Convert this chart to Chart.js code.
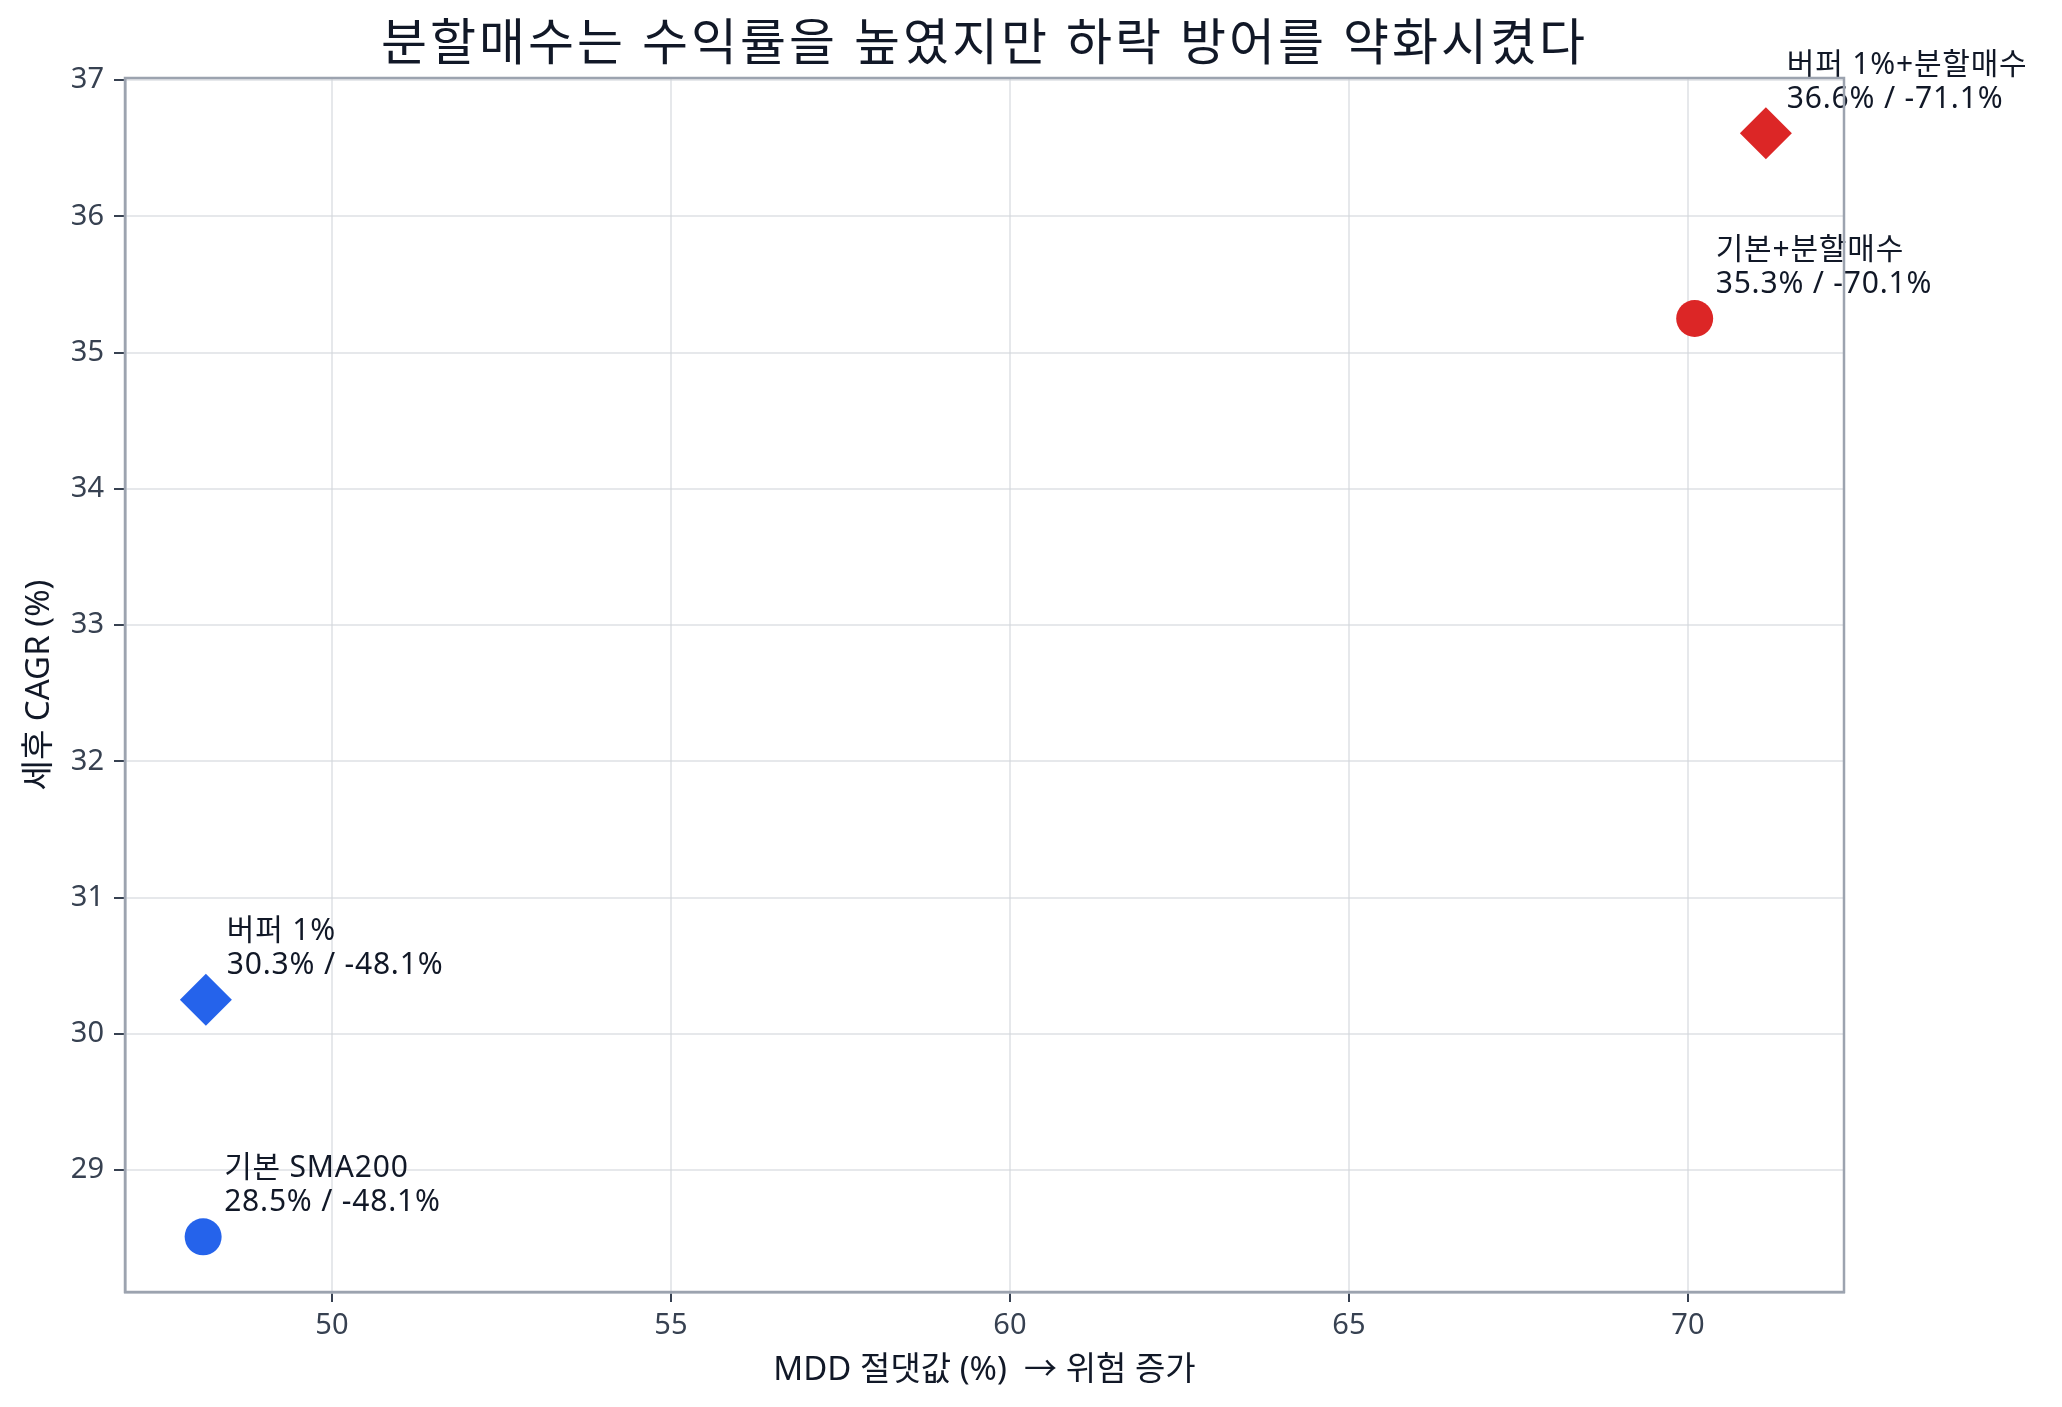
<!DOCTYPE html>
<html lang="ko">
<head>
<meta charset="utf-8">
<title>분할매수 CAGR vs MDD</title>
<script src="https://cdn.jsdelivr.net/npm/chart.js@4.4.1/dist/chart.umd.min.js"></script>
<style>
  html, body { margin: 0; padding: 0; background: #fff; }
  #wrap { width: 2062px; height: 1407px; position: relative; }
</style>
</head>
<body>
<div id="wrap"><canvas id="scatter"></canvas></div>
<script>
// ===== Data =====
const strategies = ["기본 SMA200", "버퍼 1%", "기본+분할매수", "버퍼 1%+분할매수"];
const mddAbs = [48.1, 48.14, 70.1, 71.15];      // x: MDD absolute (%)
const cagrAfterTax = [28.51, 30.25, 35.25, 36.61]; // y: after-tax CAGR (%)
const cagrText = ["28.5%", "30.3%", "35.3%", "36.6%"];
const mddText = ["-48.1%", "-48.1%", "-70.1%", "-71.1%"];
const markerShapes = ["circle", "rectRot", "circle", "rectRot"];
const markerColors = ["#2563eb", "#2563eb", "#dc2626", "#dc2626"];

const xTicks = [50, 55, 60, 65, 70];
const yTicks = [29, 30, 31, 32, 33, 34, 35, 36, 37];

const chartTitle = "분할매수는 수익률을 높였지만 하락 방어를 약화시켰다";
const xTitle = "MDD 절댓값 (%)  → 위험 증가";
const yTitle = "세후 CAGR (%)";

const FONT = "'Noto Sans', 'Noto Sans CJK KR', sans-serif";

// matplotlib style 5% margins
function padRange(values) {
  const lo = Math.min(...values), hi = Math.max(...values);
  const m = (hi - lo) * 0.05;
  return [lo - m, hi + m];
}
const [xMin, xMax] = padRange(mddAbs);
const [yMin, yMax] = padRange(cagrAfterTax);

// ===== Plugins =====
const frameAndTitle = {
  id: "frameAndTitle",
  afterDraw(chart) {
    const { ctx, chartArea } = chart;
    ctx.save();
    ctx.strokeStyle = "#9ca3af";
    ctx.lineWidth = 2.5;
    ctx.strokeRect(chartArea.left, chartArea.top,
      chartArea.right - chartArea.left, chartArea.bottom - chartArea.top);
    ctx.fillStyle = "#111827";
    ctx.font = "50px " + FONT;
    ctx.letterSpacing = "3px";
    ctx.textAlign = "center";
    ctx.textBaseline = "middle";
    ctx.fillText(chartTitle, (chartArea.left + chartArea.right) / 2, 46);
    ctx.restore();
  },
};

const pointLabels = {
  id: "pointLabels",
  afterDatasetsDraw(chart) {
    const { ctx } = chart;
    const meta = chart.getDatasetMeta(0);
    ctx.save();
    ctx.fillStyle = "#111827";
    ctx.font = "30px " + FONT;
    ctx.letterSpacing = "0.8px";
    ctx.textAlign = "left";
    ctx.textBaseline = "bottom";
    meta.data.forEach((pt, i) => {
      const x = pt.x + 21;
      const y = pt.y - 19;
      ctx.fillText(cagrText[i] + " / " + mddText[i], x, y);
      ctx.fillText(strategies[i], x, y - 34);
    });
    ctx.restore();
  },
};

// ===== Chart =====
const ctx = document.getElementById("scatter");
new Chart(ctx, {
  type: "scatter",
  data: {
    datasets: [
      {
        label: "strategies",
        data: mddAbs.map((x, i) => ({ x, y: cagrAfterTax[i] })),
        pointStyle: markerShapes,
        pointRadius: markerShapes.map((s) => (s === "circle" ? 18.5 : 26)),
        pointHoverRadius: markerShapes.map((s) => (s === "circle" ? 18.5 : 26)),
        backgroundColor: markerColors,
        borderColor: markerColors,
        borderWidth: 0,
      },
    ],
  },
  options: {
    responsive: true,
    maintainAspectRatio: false,
    animation: false,
    layout: { padding: { top: 78, right: 218, left: 0, bottom: 0 } },
    plugins: {
      legend: { display: false },
      title: { display: false },
      tooltip: { enabled: false },
    },
    scales: {
      x: {
        type: "linear",
        z: 1,
        min: xMin,
        max: xMax,
        afterBuildTicks: (scale) => { scale.ticks = xTicks.map((v) => ({ value: v })); },
        afterFit: (scale) => { scale.height = 115; },
        ticks: { color: "#374151", font: { family: FONT, size: 29 }, padding: 6 },
        grid: { color: "rgba(209,213,219,0.55)", lineWidth: 2, tickColor: "#374151", tickLength: 10, tickWidth: 2 },
        border: { display: true, color: "#9ca3af", width: 2.5 },
        title: {
          display: true,
          text: xTitle,
          color: "#111827",
          font: { family: FONT, size: 33 },
          padding: { top: 0, bottom: 17 },
        },
      },
      y: {
        type: "linear",
        z: 1,
        min: yMin,
        max: yMax,
        afterBuildTicks: (scale) => { scale.ticks = yTicks.map((v) => ({ value: v })); },
        afterFit: (scale) => { scale.width = 125; },
        ticks: { color: "#374151", font: { family: FONT, size: 29 }, padding: 10 },
        grid: { color: "rgba(209,213,219,0.55)", lineWidth: 2, tickColor: "#374151", tickLength: 11, tickWidth: 2 },
        border: { display: true, color: "#9ca3af", width: 2.5 },
        title: {
          display: true,
          text: yTitle,
          color: "#111827",
          font: { family: FONT, size: 33 },
          padding: { top: 20, bottom: 0 },
        },
      },
    },
  },
  plugins: [frameAndTitle, pointLabels],
});
</script>
</body>
</html>
